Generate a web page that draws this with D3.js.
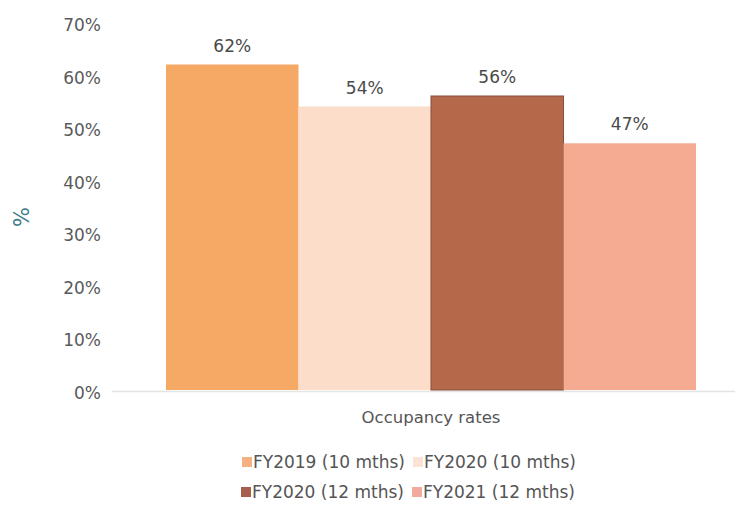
<!DOCTYPE html>
<html>
<head>
<meta charset="utf-8">
<script src="https://cdn.jsdelivr.net/npm/d3@7"></script>
<style>
  body { margin: 0; background: #fff; }
  text { font-family: "DejaVu Sans", Verdana, sans-serif; }
</style>
</head>
<body>
<div id="chart-area"></div>
<script>
// DATA-----------------------------------------------------------------------
const series = ['FY2019 (10 mths)', 'FY2020 (10 mths)', 'FY2020 (12 mths)', 'FY2021 (12 mths)']
const values = [62, 54, 56, 47]
const category = 'Occupancy rates'
const yTicks = [0, 10, 20, 30, 40, 50, 60, 70]
const barColors = ['#f6a964', '#fbddca', '#b3694a', '#f5ab92']
const legendColors = ['#f4b283', '#fbe3d6', '#a65e4e', '#f1aa9c']

// SVG-----------------------------------------------------------------------
const W = 741, H = 506
const svg = d3.select('#chart-area').append('svg')
  .attr('width', W)
  .attr('height', H)

// SCALES--------------------------------------------------------------------
const yScale = d3.scaleLinear().domain([0, 70]).range([390, 22.5])
const xScale = d3.scaleBand().domain(series).range([166, 696]).padding(0)
const cScale = d3.scaleOrdinal().domain(series).range(barColors)
const lScale = d3.scaleOrdinal().domain(series).range(legendColors)

// AXES----------------------------------------------------------------------
const yAxis = d3.axisLeft(yScale)
  .tickValues(yTicks)
  .tickFormat(d => d + '%')
  .tickSize(0)
  .tickPadding(0)
const gAxisY = svg.append('g')
  .attr('transform', 'translate(101, 3)')
  .call(yAxis)
gAxisY.select('.domain').remove()
gAxisY.selectAll('text')
  .attr('fill', '#5a5a5a')
  .style('font-size', '17px')
  .style('font-family', '"DejaVu Sans", Verdana, sans-serif')

// baseline
svg.append('line')
  .attr('x1', 112).attr('x2', 735)
  .attr('y1', yScale(0) + 1.5).attr('y2', yScale(0) + 1.5)
  .attr('stroke', '#e4e4e4')
  .attr('stroke-width', 1.5)

// y title
svg.append('text')
  .attr('transform', 'translate(22, 217) rotate(-90)')
  .attr('text-anchor', 'middle')
  .attr('dy', '0.35em')
  .attr('fill', '#3c7d8a')
  .style('font-size', '21px')
  .text('%')

// BARS----------------------------------------------------------------------
svg.selectAll('rect.bar').data(series).enter().append('rect')
  .attr('class', 'bar')
  .attr('x', d => xScale(d))
  .attr('y', (d, i) => yScale(values[i]))
  .attr('width', xScale.bandwidth())
  .attr('height', (d, i) => yScale(0) - yScale(values[i]))
  .attr('fill', d => cScale(d))
  .attr('stroke', (d, i) => i === 2 ? '#8a4c3a' : 'none')
  .attr('stroke-width', 1)

// value labels
svg.selectAll('text.val').data(series).enter().append('text')
  .attr('class', 'val')
  .attr('x', d => xScale(d) + xScale.bandwidth() / 2)
  .attr('y', (d, i) => yScale(values[i]) - 13)
  .attr('text-anchor', 'middle')
  .attr('fill', '#4a4a4a')
  .style('font-size', '17px')
  .text((d, i) => values[i] + '%')

// category label
svg.append('text')
  .attr('x', 431).attr('y', 423)
  .attr('text-anchor', 'middle')
  .attr('fill', '#555')
  .style('font-size', '16.5px')
  .text(category)

// LEGEND--------------------------------------------------------------------
const legendPos = [[242, 462], [413, 462], [241, 492], [412, 492]]
const legend = svg.selectAll('g.legend').data(series).enter().append('g')
  .attr('class', 'legend')
  .attr('transform', (d, i) => `translate(${legendPos[i][0]}, ${legendPos[i][1]})`)
legend.append('rect')
  .attr('x', 0).attr('y', -5)
  .attr('width', 10).attr('height', 10)
  .attr('fill', d => lScale(d))
legend.append('text')
  .attr('x', 11).attr('y', 0)
  .attr('dy', '0.36em')
  .attr('fill', '#555')
  .style('font-size', '17px')
  .text(d => d)
</script>
</body>
</html>
